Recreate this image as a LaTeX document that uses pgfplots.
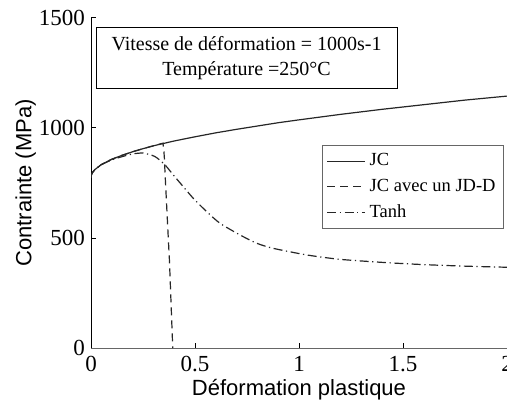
\documentclass[border=0pt]{standalone}
\usepackage{fontspec}
\setmainfont{Liberation Serif}
\newfontfamily\sansf{Liberation Sans}
\usepackage{pgfplots}
\usepackage{pgfplotstable}
\pgfplotsset{compat=1.18}

\pgfplotstableread{
x y
0 775
0.002 787
0.005 794
0.01 801
0.02 812
0.05 834
0.1 858
0.15 876
0.2 892
0.25 906
0.3 919
0.35 930
0.4 941
0.5 960
0.6 978
0.7 994
0.8 1009
0.9 1024
1.0 1037
1.2 1062
1.4 1085
1.6 1106
1.8 1127
2.0 1145
}\jc

\pgfplotstableread{
x y
0 775
0.002 787
0.005 794
0.01 801
0.02 812
0.05 834
0.1 858
0.15 876
0.2 892
0.25 906
0.3 919
0.346 931
0.350 900
0.353 860
0.356 794
0.364 642
0.372 491
0.377 400
0.385 200
0.393 0
}\jdd

\pgfplotstableread{
x y
0 775
0.002 787
0.005 794
0.01 801
0.02 812
0.05 833
0.1 855
0.15 870
0.2 882
0.251 886
0.308 870
0.356 832
0.396 786
0.444 733
0.492 680
0.556 620
0.62 567
0.716 514
0.797 476
0.876 453
1.037 423
1.197 403
1.42 388
1.6 379
1.8 372
2.0 367
}\tanhd

\begin{document}
\begin{tikzpicture}
\begin{axis}[
  name=ax,
  scale only axis,
  width=208pt, height=165pt,
  xmin=0, xmax=2, ymin=0, ymax=1500,
  axis x line=bottom, axis y line=left,
  axis line style={-},
  x axis line style={draw=black!60},
  y axis line style={draw=black},
  tick align=inside,
  major tick length=2.5pt,
  tick style={black, line width=0.5pt},
  xtick={0,0.5,1,1.5,2},
  ytick={0,500,1000,1500},
  /pgf/number format/assume math mode=true,
  /pgf/number format/1000 sep={},
  ticklabel style={font=\fontsize{11.5}{13}\selectfont},
  yticklabel style={xshift=0.5pt},
  xticklabel style={yshift=-0.5pt},
  xlabel={Déformation plastique},
  ylabel={Contrainte (MPa)},
  xlabel style={at={(axis description cs:0.5,0)}, anchor=base, yshift=-23.5pt},
  ylabel style={at={(axis description cs:-0.157,0.5)}, anchor=center},
  label style={font=\sansf\fontsize{11}{13}\selectfont},
  legend style={at={(rel axis cs:0.993,0.615)}, anchor=north east,
    draw=black!60, line width=0.5pt, font=\fontsize{9.25}{11}\selectfont,
    row sep=1.2pt, inner xsep=2pt, inner ysep=2pt},
  legend cell align=left,
  legend image code/.code={\draw[#1] (0pt,0pt) -- (19pt,0pt);},
]
\addplot[black!85, line width=0.6pt] table[x=x,y=y] {\jc};
\addlegendentry{JC}
\addplot[black!85, line width=0.6pt, dash pattern=on 4pt off 2.5pt] table[x=x,y=y] {\jdd};
\addlegendentry{JC avec un JD-D}
\addplot[black!85, line width=0.6pt, smooth, tension=0.4, dash pattern=on 4.5pt off 1.8pt on 0.6pt off 1.8pt] table[x=x,y=y] {\tanhd};
\addlegendentry{Tanh}
\node[draw=black, line width=0.5pt, fill=white, minimum width=150.5pt, minimum height=30.5pt,
  align=center, font=\fontsize{10}{12.5}\selectfont, inner sep=1pt]
  at (rel axis cs:0.374,0.880) {Vitesse de déformation = 1000s-1\\Température =250°C};
\end{axis}
\pgfresetboundingbox
\useasboundingbox ([xshift=-45.5pt,yshift=-26.5pt]ax.south west) rectangle ([yshift=9pt]ax.north east);
\end{tikzpicture}
\end{document}
